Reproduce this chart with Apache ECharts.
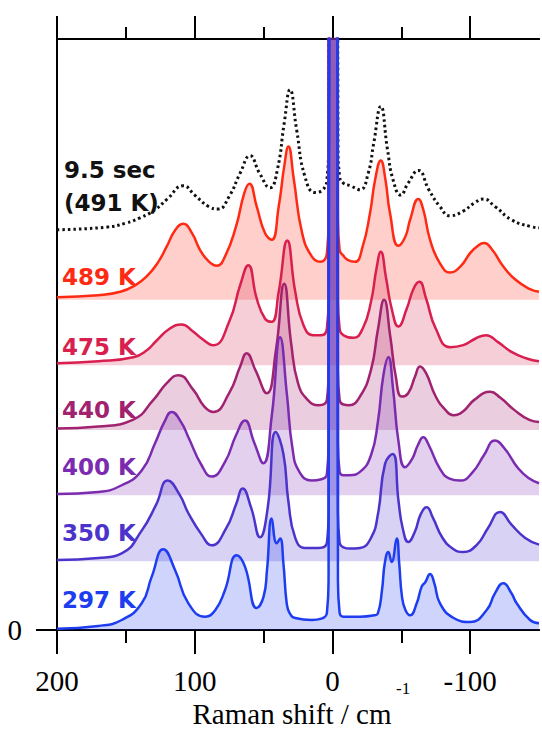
<!DOCTYPE html>
<html>
<head>
<meta charset="utf-8">
<script src="https://cdn.jsdelivr.net/npm/echarts@6/dist/echarts.min.js"></script>
<style>
html,body{margin:0;padding:0;background:#fff;}
#chart{width:542px;height:729px;}
</style>
</head>
<body>
<div id="chart"></div>
<script>
// Raman shift (cm-1), intensity above each trace's own baseline
var spec95 = [[200,0],[163.7,0.04],[150,0.1],[139.7,0.18],[128.8,0.3],[120,0.46],[108.3,0.66],[100,0.52],[90,0.35],[83,0.31],[75,0.5],[67,0.85],[59.8,1.11],[53,0.85],[45.3,0.63],[40,0.9],[35,1.6],[30.8,2.1],[26,1.5],[20,0.8],[12.6,0.56],[7,0.6],[4,0.75],[2.8,1.3],[2.3,12],[0,14],[-3.5,12],[-4,1.3],[-5.2,0.8],[-7.9,0.7],[-13,0.66],[-20,0.6],[-26,0.85],[-30,1.3],[-35.1,1.85],[-40,1.2],[-44,0.75],[-49.6,0.52],[-55,0.7],[-62.4,0.89],[-70,0.6],[-78,0.35],[-85.4,0.21],[-95,0.28],[-103,0.4],[-109.6,0.46],[-118,0.35],[-130,0.15],[-143.5,0.05],[-150,0.03]];
var spec489 = [[200,0.04],[170,0.07],[154,0.12],[143,0.22],[134.9,0.35],[127,0.55],[120.3,0.8],[114,1.05],[108.3,1.14],[102,1.0],[96.2,0.75],[90,0.58],[84,0.51],[78,0.65],[70,1.1],[64,1.6],[60.3,1.74],[55,1.4],[49,1.0],[44.1,0.9],[39,1.4],[35,2.0],[32,2.3],[28,1.8],[22,1.0],[15,0.65],[9,0.57],[4,0.7],[2.8,1.2],[2.3,12],[0,14],[-3.5,12],[-4,1.2],[-5.2,0.75],[-8,0.66],[-11,0.6],[-16.4,0.57],[-22,0.8],[-27.3,1.3],[-31,1.8],[-35.1,2.09],[-38.5,1.8],[-41.8,1.3],[-47.9,0.81],[-53,0.95],[-56.4,1.2],[-62.4,1.51],[-66,1.35],[-70.9,0.9],[-78,0.55],[-85.4,0.41],[-93,0.5],[-100,0.7],[-105,0.8],[-110.1,0.85],[-116,0.75],[-124.1,0.5],[-133,0.3],[-143.5,0.16],[-150,0.12]];
var spec475 = [[200,0.03],[170,0.06],[144.6,0.12],[135,0.22],[127.6,0.37],[118,0.55],[109.5,0.61],[101,0.5],[96.2,0.42],[86.5,0.3],[75,0.65],[67,1.2],[61.1,1.5],[55,1.0],[49,0.7],[44.1,0.65],[39,1.1],[32.8,1.87],[27,1.1],[21,0.6],[14,0.45],[8,0.45],[4,0.55],[2.8,1.0],[2.3,12],[0,14],[-3.5,12],[-4,1.0],[-5.2,0.55],[-8,0.45],[-15.2,0.41],[-22,0.55],[-28,0.95],[-32,1.45],[-35.1,1.7],[-39,1.3],[-43,0.85],[-47.9,0.58],[-54,0.85],[-59,1.15],[-63.1,1.25],[-68,1.0],[-75,0.55],[-85.4,0.27],[-95,0.3],[-104,0.4],[-111.5,0.45],[-120,0.35],[-130,0.2],[-141,0.1],[-150,0.06]];
var spec440 = [[200,0.02],[170,0.05],[145,0.15],[130,0.45],[120.3,0.7],[111.9,0.82],[101,0.6],[93,0.35],[86.5,0.27],[75,0.55],[67,0.95],[62.3,1.15],[56,0.9],[47.7,0.55],[41,1.2],[35,2.19],[30,1.3],[25,0.7],[18,0.45],[10,0.37],[4,0.45],[2.8,0.9],[2.3,12],[0,14],[-3.5,12],[-4,0.9],[-5.2,0.45],[-8,0.38],[-12,0.37],[-20,0.5],[-28,0.9],[-33,1.5],[-37.5,1.95],[-42,1.4],[-46,0.8],[-50.3,0.5],[-55,0.55],[-60,0.8],[-63.6,0.95],[-68,0.85],[-75,0.5],[-82,0.3],[-87.8,0.22],[-95,0.28],[-103,0.45],[-114.5,0.57],[-122,0.48],[-132,0.3],[-143,0.15],[-150,0.12]];
var spec400 = [[200,0.02],[170,0.05],[153,0.15],[138.5,0.37],[128.8,0.78],[122,1.1],[116.7,1.25],[110,1.1],[104.6,0.87],[95,0.45],[87.7,0.28],[78,0.5],[70,0.9],[63.5,1.12],[57,0.8],[50.2,0.48],[44,1.2],[38,2.37],[33,1.5],[29,0.7],[24,0.35],[15,0.22],[8,0.24],[4,0.32],[2.8,0.8],[2.3,12],[0,14],[-3.5,12],[-4,0.8],[-5.2,0.35],[-8,0.3],[-12,0.3],[-20,0.35],[-28,0.6],[-33,1.1],[-37,1.8],[-40.6,2.07],[-44,1.6],[-48,0.8],[-52.7,0.42],[-58,0.55],[-62,0.75],[-66,0.87],[-70,0.75],[-78,0.4],[-85,0.25],[-92.7,0.22],[-102,0.35],[-110,0.6],[-118,0.82],[-125,0.7],[-135,0.4],[-143,0.25],[-150,0.18]];
var spec350 = [[200,0.02],[170,0.05],[153,0.12],[138.5,0.46],[128,0.85],[119.6,1.21],[111,1.0],[104.6,0.72],[95,0.4],[87.7,0.24],[77,0.5],[70,0.85],[65.2,1.09],[59,0.8],[52.6,0.36],[47,0.8],[41.2,1.94],[35.6,1.61],[32,0.9],[27,0.35],[20,0.2],[10,0.2],[4,0.28],[2.8,0.75],[2.3,12],[0,14],[-3.5,12],[-4,0.75],[-5.2,0.28],[-8,0.21],[-12.8,0.19],[-20,0.2],[-28,0.35],[-33,0.7],[-38.2,1.46],[-43.8,1.61],[-48,0.9],[-51,0.5],[-55.1,0.29],[-60,0.45],[-64,0.7],[-68.4,0.81],[-73,0.65],[-80,0.35],[-88,0.18],[-95,0.14],[-105,0.25],[-113,0.5],[-121.7,0.74],[-130,0.55],[-140,0.35],[-150,0.25]];
var spec297 = [[200,0.02],[170,0.06],[153,0.15],[138.5,0.4],[131.2,0.8],[122.8,1.21],[114.3,0.9],[104.6,0.4],[92.5,0.2],[85,0.3],[78,0.6],[69.5,1.12],[63.5,0.95],[55,0.33],[50,0.5],[47.5,0.9],[44.1,1.67],[40.5,1.3],[38,1.37],[35.6,1.0],[33.2,0.4],[31,0.25],[27,0.18],[15,0.15],[8,0.17],[4,0.26],[2.8,0.75],[2.3,12],[0,14],[-3.5,12],[-4,0.75],[-5.2,0.26],[-8,0.2],[-20,0.2],[-30,0.22],[-33,0.25],[-36,0.6],[-38,1.0],[-40.6,1.17],[-43,1.02],[-46.7,1.37],[-48.5,1.0],[-50.5,0.5],[-53,0.3],[-56.4,0.22],[-61.2,0.4],[-64.8,0.65],[-67.5,0.72],[-70.9,0.84],[-74,0.7],[-78.1,0.4],[-88,0.18],[-100,0.12],[-112,0.3],[-118,0.55],[-124.1,0.7],[-130,0.55],[-133.8,0.4],[-143.5,0.15],[-150,0.1]];

var traces = [spec95, spec489, spec475, spec440, spec400, spec350, spec297];
var names = ['9.5 sec\n(491 K)', '489 K', '475 K', '440 K', '400 K', '350 K', '297 K'];
var offsets = [6.0, 4.95, 3.97, 3.0, 2.02, 1.03, 0];
var xMajor = [200, 100, 0, -100];
var xMinor = [150, 50, -50];
var yTicks = [0];

var colors = ['#111111', '#ff2a14', '#d81f4f', '#a1226f', '#7b2bb0', '#4c33cc', '#1e3df0'];
var labelPos = [[64, 186], [62, 277], [62, 347], [62, 410], [62, 467], [62, 533], [62, 600]];

var chart = echarts.init(document.getElementById('chart'), null, {renderer: 'svg'});

var series = traces.map(function (d, i) {
  var s = {
    type: 'line',
    name: names[i],
    xAxisIndex: 0,
    yAxisIndex: 0,
    data: d.map(function (p) { return [p[0], p[1] + offsets[i]]; }),
    smooth: 0.5,
    symbol: 'none',
    silent: true,
    lineStyle: {color: colors[i], width: 2.5}
  };
  if (i == 0) {
    s.lineStyle = {color: colors[i], width: 3, type: [2.5, 3]};
  } else {
    s.areaStyle = {color: colors[i], opacity: 0.22, origin: offsets[i]};
  }
  return s;
});

var axisBase = {
  type: 'value', min: -150, max: 200, interval: 50, inverse: true,
  axisLine: {onZero: false, lineStyle: {color: '#000', width: 2}},
  splitLine: {show: false}
};

function xAxisOf(grid, pos, ticks, len, labels) {
  return echarts.util.merge({
    gridIndex: grid, position: pos,
    axisTick: {customValues: ticks, length: len, lineStyle: {color: '#000', width: 2}},
    axisLabel: labels ? {customValues: xMajor, margin: 36, color: '#000', fontFamily: 'Liberation Serif', fontSize: 29} : {show: false}
  }, axisBase, true);
}

var xBottom = xAxisOf(0, 'bottom', xMajor, 24, true);
xBottom.name = 'Raman shift / cm';
xBottom.nameLocation = 'middle';
xBottom.nameGap = 60;
xBottom.nameTextStyle = {fontFamily: 'Liberation Serif', fontSize: 29, color: '#000', padding: [0, 12, 0, 0]};

var graphics = names.map(function (n, i) {
  return {
    type: 'text', x: labelPos[i][0], y: labelPos[i][1], silent: true,
    style: {text: n, fill: colors[i], font: 'bold 23px "DejaVu Sans"', verticalAlign: 'middle', lineHeight: 33}
  };
});
// superscript of the axis unit
graphics.push({type: 'text', x: 396, y: 688, silent: true,
  style: {text: '-1', fill: '#000', font: '17px "Liberation Serif"', verticalAlign: 'middle'}});

chart.setOption({
  animation: false,
  backgroundColor: '#fff',
  grid: [
    {left: 57, right: 3, top: 39, bottom: 99, outerBoundsMode: 'none'},
    {left: 57, right: 3, top: 39, bottom: 99, outerBoundsMode: 'none'}
  ],
  xAxis: [
    xBottom,
    xAxisOf(0, 'top', xMajor, 23, false),
    xAxisOf(1, 'bottom', xMinor, 13, false),
    xAxisOf(1, 'top', xMinor, 12, false)
  ],
  yAxis: [
    {gridIndex: 0, type: 'value', min: 0, max: 8.86, position: 'left',
      axisLine: {onZero: false, lineStyle: {color: '#000', width: 2}},
      axisTick: {customValues: yTicks, length: 21, lineStyle: {color: '#000', width: 2}},
      axisLabel: {customValues: yTicks, margin: 35, color: '#000', fontFamily: 'Liberation Serif', fontSize: 29},
      splitLine: {show: false}},
    {gridIndex: 1, type: 'value', min: 0, max: 8.86, show: false}
  ],
  graphic: graphics,
  series: series
});
</script>
</body>
</html>
